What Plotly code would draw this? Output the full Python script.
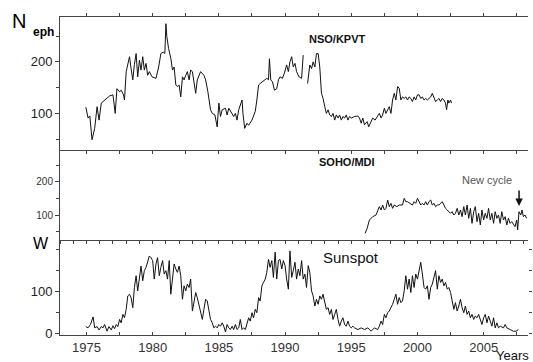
import plotly.graph_objects as go

# ---------------- data ----------------
nso_years = [1974.95, 1975.12, 1975.25, 1975.42, 1975.62, 1975.8, 1975.95, 1976.12, 1976.75, 1977.0,
             1977.17, 1977.3, 1977.5, 1977.62, 1977.8, 1977.87, 1978.0, 1978.25, 1978.37, 1978.5,
             1978.62, 1978.75, 1978.87, 1979.0, 1979.12, 1979.25, 1979.37, 1979.5, 1979.62, 1979.75,
             1979.95, 1980.25, 1980.45, 1980.62, 1980.8, 1980.92, 1981.0, 1981.07, 1981.2, 1981.37,
             1981.5, 1981.62, 1981.75, 1981.87,
             1982.0, 1982.12, 1982.25, 1982.37, 1982.5, 1982.62, 1982.75, 1982.87, 1983.0, 1983.12,
             1983.25, 1983.37, 1983.62, 1983.87, 1984.0, 1984.17, 1984.37, 1984.5, 1984.7, 1984.87,
             1985.0, 1985.12, 1985.25, 1985.5, 1985.62, 1985.75, 1985.87, 1986.0, 1986.12, 1986.25,
             1986.37, 1986.5, 1986.62, 1986.75, 1986.82, 1986.95, 1987.12, 1987.25, 1987.5, 1987.75,
             1987.87, 1988.0, 1988.12, 1988.25, 1988.45, 1988.62, 1988.75, 1988.82, 1988.92, 1989.05,
             1989.2, 1989.37, 1989.5, 1989.62, 1989.8, 1989.95, 1990.12, 1990.25, 1990.37, 1990.5,
             1990.62, 1990.75, 1990.87, 1991.05, 1991.25, 1991.37, 1991.5,
             1991.7, 1991.87, 1992.0, 1992.12, 1992.25, 1992.37, 1992.5, 1992.62, 1992.75, 1992.87,
             1993.0, 1993.12, 1993.25, 1993.37, 1993.5, 1993.62, 1993.75, 1993.87, 1994.0, 1994.12,
             1994.25, 1994.37, 1994.5, 1994.62, 1994.75, 1994.87, 1995.0, 1995.25, 1995.5,
             1995.62, 1995.75, 1995.87, 1996.0, 1996.2, 1996.32, 1996.5, 1996.62, 1996.8, 1996.95,
             1997.12, 1997.25, 1997.37, 1997.5, 1997.62, 1997.75, 1997.87, 1998.0, 1998.12, 1998.25,
             1998.37, 1998.5, 1998.62, 1998.75, 1998.87, 1999.0, 1999.12, 1999.25, 1999.37, 1999.5,
             1999.62, 1999.75, 1999.87, 2000.0, 2000.12, 2000.25, 2000.37, 2000.5, 2000.62, 2000.75,
             2000.87, 2001.0, 2001.12, 2001.25, 2001.37, 2001.5, 2001.62, 2001.75, 2001.87, 2002.0,
             2002.12, 2002.2, 2002.3, 2002.37, 2002.5, 2002.57]
nso_values = [112, 91, 95, 49, 71, 113, 87, 120, 134, 136,
              100, 148, 142, 145, 136, 126, 181, 210, 187, 165,
              195, 216, 171, 203, 184, 210, 184, 197, 174, 181,
              171, 168, 190, 216, 219, 216, 274, 249, 226, 207,
              184, 190, 155, 152,
              155, 132, 171, 165, 174, 181, 165, 184, 181, 158,
              139, 165, 181, 174, 165, 142, 107, 100, 97, 74,
              120, 94, 107, 110, 97, 110, 104, 100, 94, 100,
              87, 107, 116, 126, 100, 71, 81, 77, 87, 104,
              126, 155, 158, 161, 165, 168, 165, 206, 165, 161,
              145, 148, 165, 171, 168, 178, 194, 181, 200, 210,
              190, 197, 181, 171, 168, 213, None,
              158, 194, 187, 200, 190, 216, 216, 190, 139, 129,
              113, 100, 107, 97, 94, 100, 87, 97, 91, 97,
              87, 94, 91, 97, 87, 94, 91, 94, 95,
              91, 81, 91, 78, 84, 74, 84, 91, 87, 94,
              100, 91, 97, 110, 100, 107, 113, 100, 126, 139,
              126, 152, 149, 126, 132, 129, 132, 126, 132, 129,
              123, 132, 126, 136, 136, 129, 132, 126, 129, 126,
              129, 132, 139, 129, 123, 126, 129, 123, 129, 126,
              120, 107, 126, 120, 126, 120]

mdi_years = [1996.05, 1996.2, 1996.37, 1996.62, 1996.87, 1997.12, 1997.25, 1997.37, 1997.5, 1997.62,
             1997.75, 1997.87, 1998.0, 1998.12, 1998.25, 1998.45, 1998.62, 1998.87, 1999.0, 1999.12,
             1999.25, 1999.45, 1999.62, 1999.75, 1999.87, 2000.0, 2000.12, 2000.25, 2000.37, 2000.5,
             2000.62, 2000.75, 2000.87, 2001.0, 2001.12, 2001.25, 2001.37, 2001.5, 2001.62, 2001.75,
             2001.87, 2002.0, 2002.12, 2002.25, 2002.37, 2002.5, 2002.62, 2002.75, 2002.87, 2003.0,
             2003.12, 2003.25, 2003.37, 2003.5, 2003.62, 2003.75, 2003.87, 2004.0, 2004.12, 2004.25,
             2004.37, 2004.5, 2004.62, 2004.75, 2004.87, 2005.0, 2005.12, 2005.25, 2005.37, 2005.5,
             2005.62, 2005.75, 2005.87, 2006.0, 2006.12, 2006.25, 2006.37, 2006.5, 2006.62, 2006.75,
             2006.87, 2007.0, 2007.12, 2007.25, 2007.37, 2007.5, 2007.57, 2007.67, 2007.8, 2007.9,
             2008.0, 2008.12, 2008.25]
mdi_values = [45, 60, 85, 95, 100, 125, 115, 130, 115, 120,
              145, 125, 135, 120, 130, 125, 130, 130, 150, 140,
              140, 135, 130, 140, 135, 150, 140, 130, 135, 130,
              140, 130, 140, 145, 130, 135, 125, 130, 130, 135,
              140, 130, 120, 115, 110, 105, 110, 100, 105, 120,
              100, 115, 95, 125, 100, 130, 90, 120, 75, 110,
              125, 80, 105, 70, 115, 85, 105, 90, 120, 85,
              105, 75, 110, 90, 100, 75, 110, 85, 95, 70,
              90, 75, 80, 70, 65, 85, 55, 110, 100, 115,
              95, 100, 90]

ssn_years = [1974.95, 1975.12, 1975.3, 1975.5, 1975.62, 1975.8, 1975.95, 1976.12, 1976.25, 1976.37,
             1976.55, 1976.7, 1976.87, 1977.0, 1977.12, 1977.25, 1977.37, 1977.5, 1977.62, 1977.75,
             1977.87, 1978.0, 1978.12, 1978.25, 1978.37, 1978.5, 1978.62, 1978.75, 1978.87, 1979.0,
             1979.12, 1979.25, 1979.37, 1979.5, 1979.62, 1979.75, 1979.87, 1980.0, 1980.12, 1980.25,
             1980.37, 1980.5, 1980.62, 1980.75, 1980.87, 1981.0, 1981.12, 1981.25, 1981.37, 1981.5,
             1981.62, 1981.75, 1981.87,
             1982.0, 1982.12, 1982.25, 1982.37, 1982.5, 1982.62, 1982.75, 1982.87, 1983.0, 1983.12,
             1983.25, 1983.37, 1983.5, 1983.62, 1983.75, 1983.87, 1984.0, 1984.12, 1984.25, 1984.37,
             1984.5, 1984.62, 1984.75, 1984.87, 1985.0, 1985.12, 1985.25, 1985.37, 1985.5, 1985.62,
             1985.75, 1985.87, 1986.0, 1986.12, 1986.25, 1986.37, 1986.5, 1986.62, 1986.75, 1986.87,
             1987.0, 1987.12, 1987.25, 1987.37, 1987.5, 1987.62, 1987.75, 1987.87, 1988.0, 1988.12,
             1988.25, 1988.37, 1988.5, 1988.62, 1988.75, 1988.87, 1989.0, 1989.12, 1989.25, 1989.37,
             1989.5, 1989.62, 1989.75, 1989.87, 1990.0, 1990.12, 1990.25, 1990.37, 1990.5, 1990.62,
             1990.75, 1990.87, 1991.0, 1991.12, 1991.25, 1991.37, 1991.5, 1991.62, 1991.75, 1991.87,
             1992.0, 1992.12, 1992.25, 1992.37, 1992.5, 1992.62, 1992.75, 1992.87, 1993.0, 1993.12,
             1993.25, 1993.37, 1993.5, 1993.62, 1993.75, 1993.87, 1994.0, 1994.12, 1994.25, 1994.37,
             1994.5, 1994.62, 1994.75, 1994.87, 1995.0, 1995.12, 1995.25, 1995.5,
             1995.75, 1996.0, 1996.25, 1996.5, 1996.75, 1997.0, 1997.12, 1997.25, 1997.37, 1997.5,
             1997.62, 1997.75, 1997.87, 1998.0, 1998.12, 1998.25, 1998.37, 1998.5, 1998.62, 1998.75,
             1998.87, 1999.0, 1999.12, 1999.25, 1999.37, 1999.5, 1999.62, 1999.75, 1999.87, 2000.0,
             2000.12, 2000.25, 2000.37, 2000.5, 2000.62, 2000.75, 2000.87, 2001.0, 2001.12, 2001.25,
             2001.37, 2001.5, 2001.62, 2001.75, 2001.87, 2002.0, 2002.12, 2002.25, 2002.37, 2002.5,
             2002.62, 2002.75, 2002.87, 2003.0, 2003.12, 2003.25, 2003.37, 2003.5, 2003.62, 2003.75,
             2003.87, 2004.0, 2004.12, 2004.25, 2004.37, 2004.5, 2004.62, 2004.75, 2004.87, 2005.0,
             2005.12, 2005.25, 2005.37, 2005.5, 2005.62, 2005.75, 2005.87, 2006.0, 2006.12, 2006.25,
             2006.5, 2006.62, 2006.75, 2007.0, 2007.25, 2007.45, 2007.62]
ssn_values = [17, 14, 22, 40, 14, 17, 9, 17, 14, 22,
              6, 17, 9, 19, 12, 22, 17, 34, 26, 46,
              38, 58, 90, 94, 86, 62, 110, 138, 102, 130,
              161, 126, 150, 158, 174, 185, 181, 174, 130, 166,
              181, 138, 158, 174, 142, 150, 130, 174, 94, 138,
              166, 154, 146,
              161, 138, 82, 114, 102, 118, 110, 130, 54, 78,
              98, 86, 66, 54, 34, 58, 82, 78, 50, 34,
              26, 14, 18, 14, 22, 18, 26, 18, 4, 22,
              14, 10, 18, 10, 22, 10, 14, 34, 10, 14,
              10, 26, 38, 30, 50, 38, 58, 50, 86, 78,
              114, 122, 130, 146, 177, 158, 174, 134, 194, 130,
              174, 177, 154, 174, 162, 130, 106, 197, 134, 150,
              170, 130, 154, 138, 174, 130, 142, 110, 162, 146,
              102, 90, 66, 82, 70, 90, 82, 94, 78, 58,
              62, 46, 58, 34, 46, 58, 34, 18, 30, 38,
              22, 18, 30, 18, 14, 18, 14, 10,
              14, 10, 14, 6, 14, 10, 18, 30, 22, 46,
              38, 50, 54, 62, 70, 82, 94, 70, 86, 74,
              78, 102, 138, 106, 130, 98, 138, 110, 142, 130,
              150, 170, 142, 110, 106, 114, 82, 110, 118, 138,
              150, 106, 138, 122, 130, 114, 122, 106, 110, 98,
              74, 58, 74, 54, 66, 82, 62, 50, 66, 46,
              54, 38, 46, 34, 42, 38, 46, 30, 22, 38,
              46, 26, 42, 30, 18, 38, 14, 26, 14, 18,
              14, 22, 14, 10, 6, 6, 10]

x_range = [1973.0, 2008.35]
top_ticks = [100, 200]
mid_ticks = [100, 200]
ssn_ticks = [0, 100]

# ---------------- geometry helpers ----------------
W, H = 533, 362
L, R, T, B = 60, 2, 17, 27
PW, PH = W - L - R, H - T - B


def px(x):
    return (x - L) / PW


def py(y):
    return (H - B - y) / PH


d1 = [py(150), 1.0]
d2 = [py(240), py(150)]
d3 = [0.0, py(240)]

FONT = "Arial, Liberation Sans, sans-serif"
LINE = "#111111"
AX = "#444444"

fig = go.Figure()
fig.add_trace(go.Scatter(x=nso_years, y=nso_values, mode="lines", line=dict(color=LINE, width=1),
                         xaxis="x", yaxis="y", showlegend=False, connectgaps=False))
fig.add_trace(go.Scatter(x=mdi_years, y=mdi_values, mode="lines", line=dict(color=LINE, width=1),
                         xaxis="x2", yaxis="y2", showlegend=False))
fig.add_trace(go.Scatter(x=ssn_years, y=ssn_values, mode="lines", line=dict(color=LINE, width=1),
                         xaxis="x3", yaxis="y3", showlegend=False))
fig.add_trace(go.Scatter(x=[None], y=[None], xaxis="x3", yaxis="y4", showlegend=False))

xcommon = dict(range=x_range, showgrid=False, zeroline=False, showline=True, linecolor=AX,
               linewidth=1, tickcolor=AX, ticklen=3, tickwidth=1)
ycommon = dict(showgrid=False, zeroline=False, showline=True, linecolor=AX, linewidth=1,
               tickcolor=AX, ticks="outside", ticklen=4, tickwidth=1,
               minor=dict(dtick=50, tick0=0, ticks="outside", ticklen=3, tickcolor=AX))

fig.update_layout(
    width=W, height=H,
    margin=dict(l=L, r=R, t=T, b=B),
    paper_bgcolor="white", plot_bgcolor="white",
    font=dict(family=FONT, color="#222"),
    xaxis=dict(**xcommon, ticks="outside", anchor="y", mirror="ticks", tick0=1975, dtick=2.5,
               showticklabels=False),
    xaxis2=dict(**xcommon, ticks="outside", anchor="y2", tick0=1975, dtick=1,
                showticklabels=False, matches="x"),
    xaxis3=dict(**xcommon, ticks="inside", anchor="y3", tick0=1975, dtick=5, matches="x",
                tickfont=dict(size=13, color="#333"),
                minor=dict(dtick=2.5, tick0=1975, ticks="inside", ticklen=3, tickcolor=AX)),
    yaxis=dict(**ycommon, domain=d1, range=[29, 287], tickvals=top_ticks,
               tickfont=dict(size=13, color="#222")),
    yaxis2=dict(**ycommon, domain=d2, range=[25, 295], tickvals=mid_ticks,
                tickfont=dict(size=10, color="#333")),
    yaxis3=dict(**ycommon, domain=d3, range=[-3, 223], tickvals=ssn_ticks,
                tickfont=dict(size=13, color="#222")),
    yaxis4=dict(overlaying="y3", side="right", range=[-3, 223], showgrid=False, zeroline=False,
                showline=False, ticks="outside", ticklen=3, tickcolor=AX, tick0=0, dtick=50,
                showticklabels=False, anchor="x3"),
)

ann = []


def label(text, x, y, size, bold=False, color="#111", xanchor="center"):
    ann.append(dict(text=("<b>%s</b>" % text) if bold else text, x=px(x), y=py(y),
                    xref="paper", yref="paper", showarrow=False, xanchor=xanchor, yanchor="middle",
                    font=dict(family=FONT, size=size, color=color)))


label("N", 19, 21, 20, color="#000")
label("eph", 43, 32, 12, bold=True, color="#000")
label("W", 41, 244, 16, color="#000")
label("NSO/KPVT", 339, 39, 11, bold=True)
label("SOHO/MDI", 349, 162, 11, bold=True)
label("New cycle", 490, 180, 11, color="#555")
label("Sunspot", 353, 257, 15)
label("Years", 515, 355, 13, color="#111")

ann.append(dict(x=px(522), y=py(206), xref="paper", yref="paper", ax=0, ay=-17, text="",
                showarrow=True, arrowhead=2, arrowsize=1, arrowwidth=1.5, arrowcolor="#111"))

fig.update_layout(annotations=ann)
fig.write_html("out.html")
